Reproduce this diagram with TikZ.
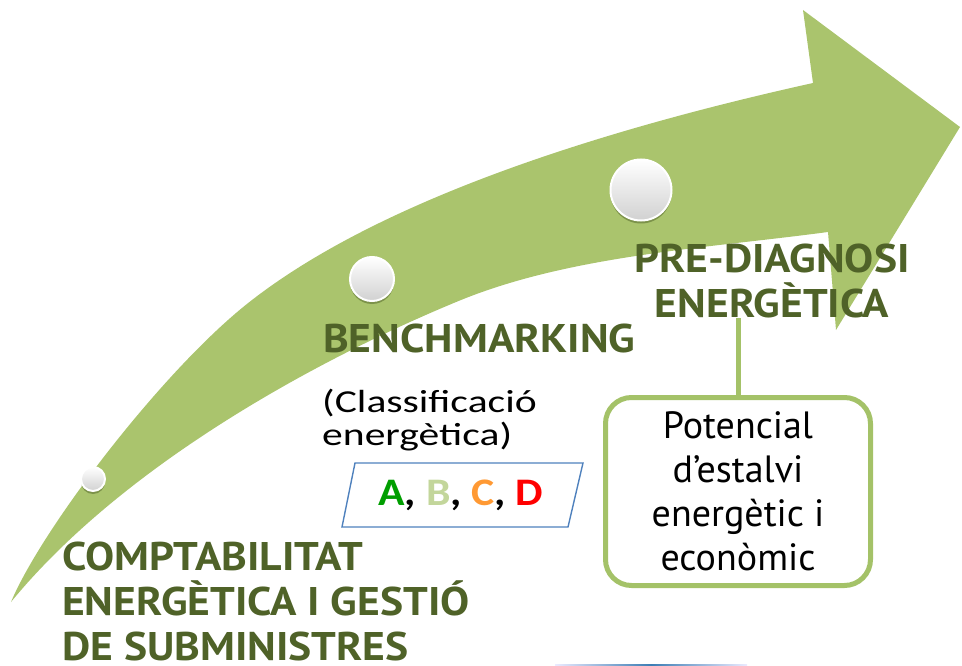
\documentclass[tikz,border=0pt]{standalone}
\usepackage{fontspec}
\setmainfont{PT Sans}
\newfontfamily\titlefont[FakeStretch=1.09]{PT Sans}
\newfontfamily\clfont[FakeStretch=1.3]{Carlito}
\newfontfamily\abcfont[FakeStretch=1.12]{Carlito}
\usetikzlibrary{shadows}

\definecolor{arrowgreen}{RGB}{170,196,109}
\definecolor{titlegreen}{RGB}{79,98,40}
\definecolor{boxgreen}{RGB}{164,194,104}
\definecolor{abcblue}{RGB}{79,129,189}
\definecolor{classA}{RGB}{0,158,0}
\definecolor{classB}{RGB}{195,214,155}
\definecolor{classC}{RGB}{255,153,51}
\definecolor{classD}{RGB}{255,0,0}

\begin{document}
\begin{tikzpicture}[x=1pt,y=-1pt,
  ball/.style={circle,inner sep=0,draw=white,line width=2pt,
    top color=white,bottom color=black!18,
    drop shadow={opacity=.5,shadow xshift=0pt,shadow yshift=-3pt,fill=titlegreen}},
  title/.style={inner sep=0,text=titlegreen,
    font=\titlefont\fontsize{40}{45}\selectfont\bfseries},
  potbox/.style={draw=boxgreen,line width=5pt,fill=white,rounded corners=26pt,
    minimum width=265pt,minimum height=188pt,align=center,
    font=\fontsize{38}{44}\selectfont}]
\useasboundingbox (0,0) rectangle (962,666);

% the big curved arrow
\fill[arrowgreen] (11,602) .. controls (42,528) and (165,367) .. (252,300)
  .. controls (394,190) and (637,122) .. (813,83)
  -- (803,10) -- (960,127) -- (836,330) -- (828,232)
  .. controls (709,248) and (572,255) .. (461,300)
  .. controls (322,357) and (125,463) .. (11,602) -- cycle;

\node[ball,minimum size=24pt] (b1) at (93,479) {};
\node[ball,minimum size=44pt] (b2) at (372,279) {};
\node[ball,minimum size=61pt] (b3) at (641,190) {};

% base of a multi-line node = its last line
\node[title,anchor=base west,align=left] (compt) at (62,660)
  {COMPTABILITAT\\ENERGÈTICA I GESTIÓ\\DE SUBMINISTRES};
\node[title,anchor=base west] (bench) at (323,352) {BENCHMARKING};
\node[title,anchor=base,align=center] (prediag) at (772,317)
  {PRE-DIAGNOSI\\ENERGÈTICA};

\node[inner sep=0,anchor=base west,align=left,
  font=\clfont\fontsize{32}{33}\selectfont] (classif) at (322,445)
  {(Classificació\\energètica)};

\draw[abcblue,line width=1.4pt] (342,527) -- (355,463) -- (583,463) -- (568,527) -- cycle;
\node[inner sep=0,font=\abcfont\fontsize{39}{40}\selectfont\bfseries] (abc) at (461,495)
  {\textcolor{classA}{A}, \textcolor{classB}{B}, \textcolor{classC}{C}, \textcolor{classD}{D}};

\node[potbox] (pot) at (738,491.5)
  {Potencial\\d’estalvi\\energètic i\\econòmic};
\draw[boxgreen,line width=5pt] (pot.north) -- (pot.north |- prediag.south);

\shade[left color=blue!8,right color=blue!8,middle color={rgb,255:red,60;green,125;blue,180}]
  (555,664) rectangle (747,666);
\end{tikzpicture}
\end{document}
